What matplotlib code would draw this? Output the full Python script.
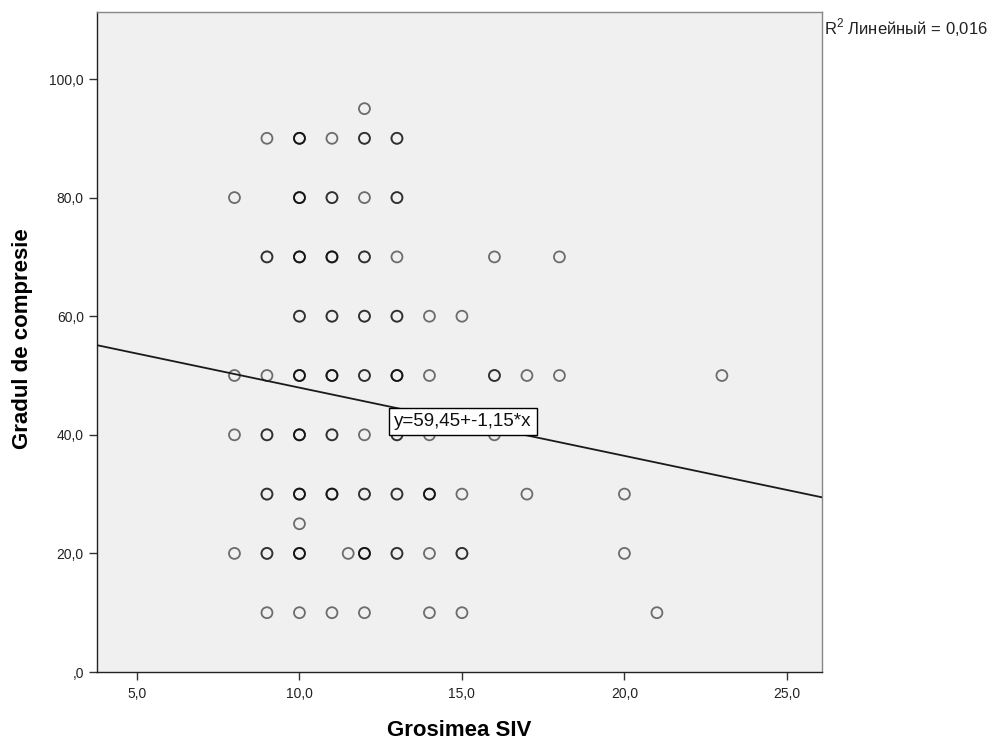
import numpy as np
import matplotlib
matplotlib.use("Agg")
import matplotlib.pyplot as plt
from matplotlib.ticker import FuncFormatter

plt.rcParams['font.family'] = ['Liberation Sans', 'DejaVu Sans']
plt.rcParams['mathtext.fontset'] = 'custom'
plt.rcParams['mathtext.rm'] = 'Liberation Sans'

# Observations: (septal thickness, compression grade, number of coinciding cases)
siv = [12,
       9, 10, 11, 12, 13,
       8, 10, 11, 12, 13,
       9, 10, 11, 12, 13, 16, 18,
       10, 11, 12, 13, 14, 15,
       8, 9, 10, 11, 12, 13, 14, 16, 17, 18, 23,
       8, 9, 10, 11, 12, 13, 14, 16,
       9, 10, 11, 12, 13, 14, 15, 17, 20,
       10,
       8, 9, 10, 11.5, 12, 13, 14, 15, 20,
       9, 10, 11, 12, 14, 15, 21]
compresie = [95,
             90, 90, 90, 90, 90,
             80, 80, 80, 80, 80,
             70, 70, 70, 70, 70, 70, 70,
             60, 60, 60, 60, 60, 60,
             50, 50, 50, 50, 50, 50, 50, 50, 50, 50, 50,
             40, 40, 40, 40, 40, 40, 40, 40,
             30, 30, 30, 30, 30, 30, 30, 30, 30,
             25,
             20, 20, 20, 20, 20, 20, 20, 20, 20,
             10, 10, 10, 10, 10, 10, 10]
cases = [1,
         1, 3, 1, 2, 2,
         1, 3, 2, 1, 2,
         2, 3, 3, 2, 1, 1, 1,
         2, 2, 2, 2, 1, 1,
         1, 1, 3, 3, 2, 3, 1, 2, 1, 1, 1,
         1, 2, 3, 2, 1, 2, 1, 1,
         2, 3, 3, 2, 2, 3, 1, 1, 1,
         1,
         1, 2, 3, 1, 3, 2, 1, 2, 1,
         1, 1, 1, 1, 1, 1, 1]

# Linear fit reported for the data
intercept = 59.45
slope = -1.15
r2_text = "0,016"

x = np.repeat(siv, cases)
y = np.repeat(compresie, cases)

fig = plt.figure(figsize=(9.98, 7.42), dpi=100)
ax = fig.add_axes([97/998, 70/742, (822-97)/998, (672-12)/742])
ax.set_facecolor('#f0f0f0')

ax.scatter(x, y, s=62, facecolors='none', edgecolors=(0, 0, 0, 0.55),
           linewidths=1.3, zorder=3)

xlim = (3.77, 26.08)
ylim = (0, 111.3)
ax.set_xlim(*xlim)
ax.set_ylim(*ylim)

xx = np.array(xlim)
ax.plot(xx, intercept + slope * xx, color='#1a1a1a', lw=1.3, zorder=4)

# equation label anchored at the fitted line
x_lab = 12.72
ax.text(x_lab + 0.2, intercept + slope * x_lab - 2.6,
        "y=59,45+-1,15*x", fontsize=13.5, ha='left', va='center', zorder=6,
        color='#111111',
        bbox=dict(boxstyle='square,pad=0.26', facecolor='white',
                  edgecolor='black', linewidth=1.0))

def fmt(v, pos):
    s = f"{v:.1f}".replace('.', ',')
    if s.startswith('0,'):
        s = s[1:]
    return s

ax.set_xticks([5, 10, 15, 20, 25])
ax.set_yticks([0, 20, 40, 60, 80, 100])
ax.xaxis.set_major_formatter(FuncFormatter(fmt))
ax.yaxis.set_major_formatter(FuncFormatter(fmt))
ax.tick_params(axis='both', direction='out', length=6, width=1.0,
               color='#333333', labelsize=10, labelcolor='#222222')
ax.tick_params(axis='x', pad=5)
for side in ('top', 'right'):
    ax.spines[side].set_color('#888888')
for side in ('left', 'bottom'):
    ax.spines[side].set_color('#222222')
for sp in ax.spines.values():
    sp.set_linewidth(1.0)

ax.set_xlabel("Grosimea SIV", fontsize=16, fontweight='bold')
ax.set_ylabel("Gradul de compresie", fontsize=16, fontweight='bold')
ax.xaxis.set_label_coords(0.5, -0.073)
ax.yaxis.set_label_coords(-0.088, 0.505)

fig.text(824/998, 1 - 28/742, r"R$^{\mathrm{2}}$ Линейный = " + r2_text,
         fontsize=12, ha='left', va='center', color='#222222')

fig.savefig("out.png", dpi=100, facecolor='white')
